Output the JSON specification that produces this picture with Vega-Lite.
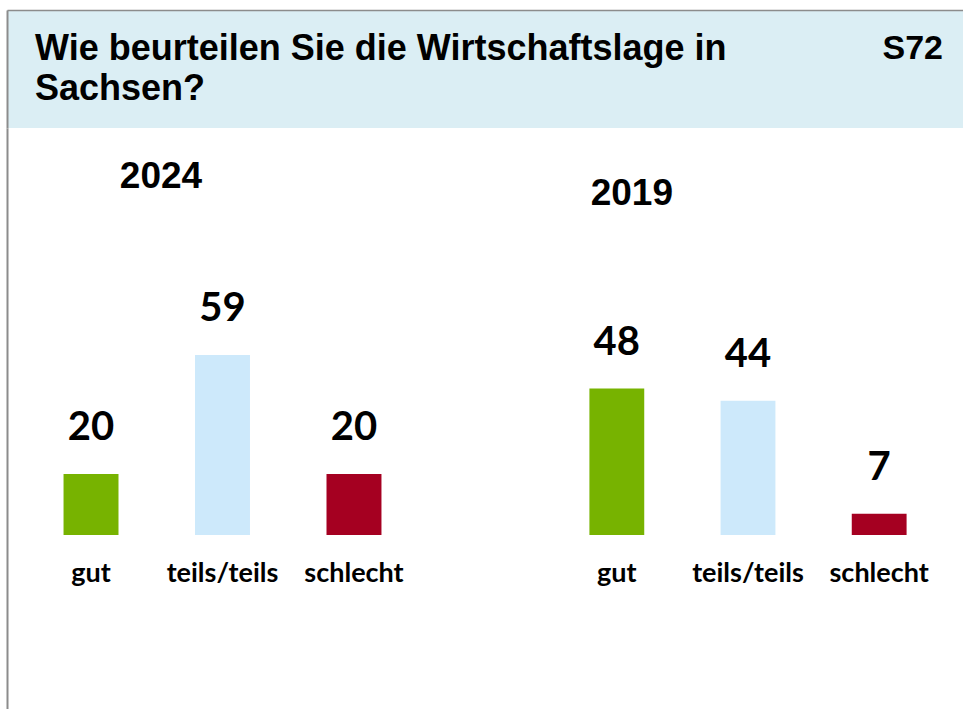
{
  "$schema": "https://vega.github.io/schema/vega-lite/v6.json",
  "padding": {"left": 7, "top": 10, "right": 0, "bottom": 0},
  "background": "white",
  "config": {"view": {"stroke": null}, "concat": {"spacing": 0}},
  "spacing": 0,
  "data": {"values": [
    {"year": "2024", "cat": "gut", "value": 20},
    {"year": "2024", "cat": "teils/teils", "value": 59},
    {"year": "2024", "cat": "schlecht", "value": 20},
    {"year": "2019", "cat": "gut", "value": 48},
    {"year": "2019", "cat": "teils/teils", "value": 44},
    {"year": "2019", "cat": "schlecht", "value": 7}
  ]},
  "vconcat": [
    {
      "width": 956,
      "height": 118,
      "view": {"fill": "#dbeef4", "stroke": null},
      "data": {"values": [
        {"line": 1, "side": "left", "text": "Wie beurteilen Sie die Wirtschaftslage in"},
        {"line": 2, "side": "left", "text": "Sachsen?"},
        {"line": 1, "side": "right", "text": "S72"}
      ]},
      "layer": [
        {
          "transform": [{"filter": "datum.side === 'left'"}],
          "mark": {"type": "text", "align": "left", "baseline": "middle", "dx": 28, "font": "Liberation Sans", "fontWeight": "bold", "fontSize": 36, "color": "#000000"},
          "encoding": {
            "x": {"field": "side", "type": "nominal", "scale": {"type": "point", "domain": ["left", "right"], "padding": 0},
                  "axis": {"orient": "top", "labels": false, "ticks": false, "title": null, "grid": false, "domainColor": "#8c8c8c", "domainWidth": 1.5}},
            "y": {"field": "line", "type": "ordinal", "scale": {"type": "point", "domain": [1, 2], "padding": 1},
                  "axis": {"orient": "left", "labels": false, "ticks": false, "title": null, "grid": false, "domainColor": "#8c8c8c", "domainWidth": 2}},
            "text": {"field": "text"}
          }
        },
        {
          "transform": [{"filter": "datum.side === 'right'"}],
          "mark": {"type": "text", "align": "right", "baseline": "middle", "dx": -20, "font": "Liberation Sans", "fontWeight": "bold", "fontSize": 34, "color": "#000000"},
          "encoding": {
            "x": {"field": "side", "type": "nominal"},
            "y": {"field": "line", "type": "ordinal"},
            "text": {"field": "text"}
          }
        }
      ]
    },
    {
      "spacing": 95,
      "hconcat": [
        {
          "width": 431,
          "height": 581,
          "transform": [{"filter": "datum.year === '2024'"}],
          "encoding": {
            "x": {"field": "cat", "type": "nominal", "sort": ["gut", "teils/teils", "schlecht"],
                  "scale": {"domain": ["gut", "teils/teils", "schlecht"], "paddingInner": 0.582, "paddingOuter": 0.43}, "axis": null},
            "y": {"field": "value", "type": "quantitative", "scale": {"domain": [-57, 133.4], "nice": false, "zero": false},
                  "axis": {"orient": "left", "labels": false, "ticks": false, "title": null, "grid": false, "domainColor": "#8c8c8c", "domainWidth": 2}}
          },
          "layer": [
            {
              "mark": {"type": "bar"},
              "encoding": {
                "y2": {"datum": 0},
                "color": {"field": "cat", "type": "nominal", "scale": {"domain": ["gut", "teils/teils", "schlecht"], "range": ["#77b300", "#cde9fb", "#a50021"]}, "legend": null}
              }
            },
            {
              "mark": {"type": "text", "baseline": "alphabetic", "dy": -34, "font": "Lato", "fontWeight": "bold", "fontSize": 40, "color": "#000000"},
              "encoding": {"text": {"field": "value", "type": "quantitative"}}
            },
            {
              "mark": {"type": "text", "baseline": "alphabetic", "dy": 47, "font": "Lato", "fontWeight": "bold", "fontSize": 27, "color": "#000000"},
              "encoding": {"y": {"datum": 0}, "text": {"field": "cat"}}
            },
            {
              "transform": [{"filter": "datum.cat === 'gut'"}],
              "mark": {"type": "text", "baseline": "alphabetic", "dx": 70, "font": "Liberation Sans", "fontWeight": "bold", "fontSize": 37, "color": "#000000"},
              "encoding": {"y": {"datum": 113.8}, "text": {"field": "year"}}
            }
          ]
        },
        {
          "width": 430,
          "height": 581,
          "transform": [{"filter": "datum.year === '2019'"}],
          "encoding": {
            "x": {"field": "cat", "type": "nominal", "sort": ["gut", "teils/teils", "schlecht"],
                  "scale": {"domain": ["gut", "teils/teils", "schlecht"], "paddingInner": 0.582, "paddingOuter": 0.43}, "axis": null},
            "y": {"field": "value", "type": "quantitative", "scale": {"domain": [-57, 133.4], "nice": false, "zero": false}, "axis": null}
          },
          "layer": [
            {
              "mark": {"type": "bar"},
              "encoding": {
                "y2": {"datum": 0},
                "color": {"field": "cat", "type": "nominal", "scale": {"domain": ["gut", "teils/teils", "schlecht"], "range": ["#77b300", "#cde9fb", "#a50021"]}, "legend": null}
              }
            },
            {
              "mark": {"type": "text", "baseline": "alphabetic", "dy": -34, "font": "Lato", "fontWeight": "bold", "fontSize": 40, "color": "#000000"},
              "encoding": {"text": {"field": "value", "type": "quantitative"}}
            },
            {
              "mark": {"type": "text", "baseline": "alphabetic", "dy": 47, "font": "Lato", "fontWeight": "bold", "fontSize": 27, "color": "#000000"},
              "encoding": {"y": {"datum": 0}, "text": {"field": "cat"}}
            },
            {
              "transform": [{"filter": "datum.cat === 'gut'"}],
              "mark": {"type": "text", "baseline": "alphabetic", "dx": 15, "font": "Liberation Sans", "fontWeight": "bold", "fontSize": 37, "color": "#000000"},
              "encoding": {"y": {"datum": 108.2}, "text": {"field": "year"}}
            }
          ]
        }
      ]
    }
  ]
}
